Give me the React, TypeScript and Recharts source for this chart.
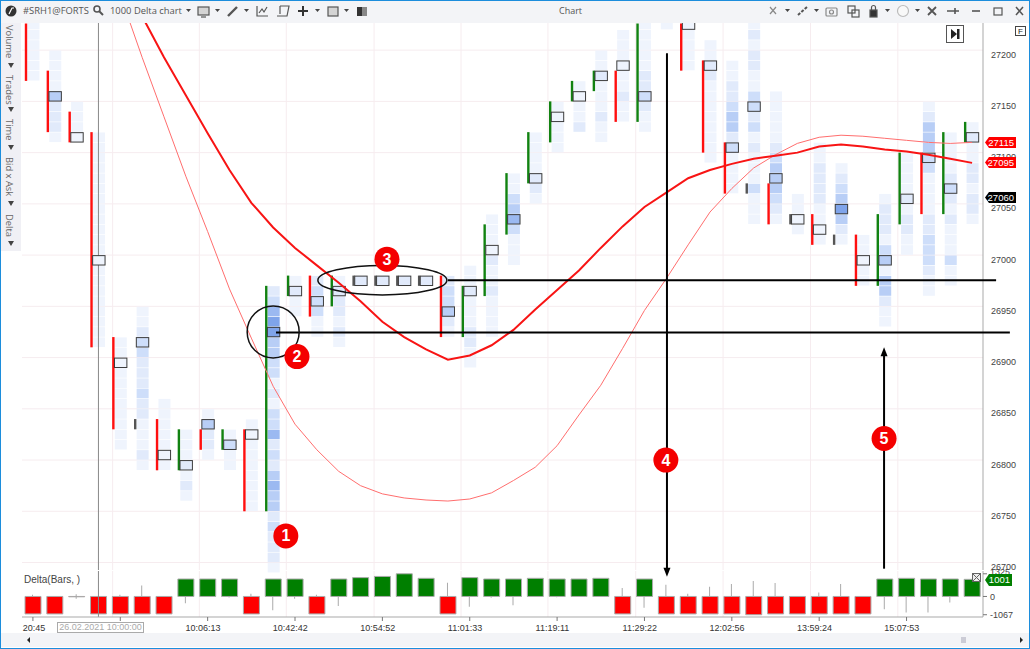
import {
  Bar,
  CartesianGrid,
  Cell,
  ComposedChart,
  Line,
  ReferenceDot,
  ReferenceLine,
  Scatter,
  XAxis,
  YAxis,
} from "recharts";

// footprint: price of the top cell of every bar and its volume shades, top to bottom
const cellTop = [
  27225, 27195, 27145, 27115, 26915, 26945, 26855, 26825, 26845, 26825, 26835,
  26965, 26975, 26975, 26975, 26975, 26975, 26975, 26975, 26975, 26985, 27035,
  27075, 27115, 27145, 27165, 27195, 27215, 27225, 27225, 27225, 27205, 27185,
  27225, 27155, 27055, 27105, 27085, 27015, 27055, 27095, 27145, 27115, 27125,
];
const cellShades = [
  "111111", "111142221", "1111", "111111111111111111111", "11111111111",
  "1123322232211121", "1111111", "1112121", "14221", "1311", "111111111",
  "2356644331213352324544232221", "1211", "233311", "1222121", "2", "2", "2", "2",
  "233421", "1121112211", "111121121111", "113453111", "1111221", "11111", "11112",
  "112111211", "111111211", "11111223211", "1", "11111", "112211111111",
  "1122344231111", "12122113323121113111", "1111123444321", "1111", "1122221111",
  "12346421", "11111", "1222134144211", "1111212211", "1244433111122333211",
  "111123212111311", "1211221221",
];
const pocPrice = [
  null, 27155, 27115, 26995, 26895, 26915, 26805, 26795, 26835, 26815, 26825,
  26925, 26965, 26955, 26965, 26975, 26975, 26975, 26975, 26945, 26965, 27005,
  27035, 27075, 27135, 27155, 27175, 27185, 27155, null, 27225, 27185, 27105,
  27145, 27075, 27035, 27025, 27045, 26995, 26995, 27055, 27095, 27065, 27115,
];

// r = down, g = up, d = doji
const candleKinds = [
  "r", "r", "r", "r", "r", "d", "r", "g", "r", "g", "r", "g", "g", "r", "g", "d",
  "d", "d", "d", "r", "g", "g", "g", "g", "g", "g", "g", "r", "g", "", "r", "r",
  "r", "d", "r", "d", "r", "d", "r", "g", "g", "r", "g", "g",
];
const candleHigh = [
  27226, 27180, 27140, 27120, 26920, 26840, 26840, 26830, 26830, 26830, 26830,
  26970, 26980, 26980, 26980, 26980, 26980, 26980, 26980, 26980, 26970, 27030,
  27080, 27120, 27150, 27170, 27180, 27180, 27226, null, 27226, 27190, 27110,
  27070, 27070, 27040, 27040, 27020, 27020, 27040, 27100, 27100, 27120, 27130,
];
const candleLow = [
  27170, 27120, 27110, 26910, 26830, 26830, 26790, 26790, 26810, 26810, 26750,
  26750, 26960, 26940, 26950, 26970, 26970, 26970, 26970, 26920, 26920, 26960,
  27020, 27070, 27110, 27150, 27160, 27130, 27130, null, 27180, 27100, 27060,
  27060, 27030, 27030, 27010, 27010, 26970, 26970, 27030, 27040, 27040, 27110,
];

const slowAverage = [
  null, null, null, null, null, 27233, 27193, 27156, 27119, 27083, 27051, 27027,
  27007, 26990, 26973, 26955, 26935, 26920, 26908, 26898, 26902, 26912, 26927,
  26947, 26966, 26985, 27007, 27028, 27047, 27061, 27075, 27083, 27089, 27094,
  27097, 27100, 27106, 27108, 27106, 27103, 27101, 27098, 27094, 27090,
];
const fastAverage = [
  null, null, null, null, 27254, 27193, 27135, 27077, 27023, 26967, 26919, 26872,
  26835, 26810, 26789, 26775, 26767, 26763, 26761, 26760, 26762, 26768, 26780,
  26793, 26814, 26844, 26873, 26909, 26946, 26977, 27010, 27042, 27065, 27085,
  27098, 27109, 27115, 27117, 27116, 27114, 27112, 27110, 27109, 27110,
];

const deltaValue = [
  -1020, -1020, -20, -1020, -1020, -1020, -1020, 1020, 1020, 1020, -1020, 1020,
  1020, -1020, 1020, 1100, 1170, 1325, 1060, -1020, 1100, 1020, 1020, 1060, 1020,
  1020, 1060, -1020, 1020, -1020, -1020, -1020, -1020, -1067, -1020, -1020, -1020,
  -1020, -1020, 1020, 1060, 1020, 1020, 1001,
];
const deltaHigh = [
  100, 0, 130, 0, 100, 640, 0, 0, 0, 0, 160, 0, 0, 100, 0, 0, 0, 0, 0, 800, 0, 0,
  0, 0, 0, 0, 0, 490, 0, 685, 160, 570, 725, 900, 780, 0, 235, 725, 0, 0, 0, 0, 0, 0,
];
const deltaLow = [
  0, 0, -130, 0, 0, 0, 0, -400, 0, -60, 0, -800, -140, 0, -560, 0, 0, 0, 0, 0, -600,
  -70, -510, 0, -50, 0, 0, 0, -660, 0, 0, 0, 0, 0, 0, 0, 0, 0, 0, -745, -940, -940,
  -350, 0,
];

const priceTicks = [27200, 27150, 27100, 27050, 27000, 26950, 26900, 26850, 26800, 26750, 26700];
const deltaTicks = [1325, 0, -1067];
const timeTickBars = [0, 4, 8, 12, 16, 20, 24, 28, 32, 36, 40];
const timeTickLabels = [
  "20:45", "", "10:06:13", "10:42:42", "10:54:52", "11:01:33", "11:19:11", "11:29:22",
  "12:02:56", "13:59:24", "15:07:53",
];
const gridBars = [3.65, 7.62, 11.6, 15.62, 19.6, 23.58, 27.6, 31.6, 35.6, 39.6];
const priceTags = [
  { text: "27115", color: "#ff0000", top: 137 },
  { text: "27095", color: "#ff0000", top: 157 },
  { text: "27060", color: "#000000", top: 192 },
];
const badges = [
  { n: "1", bar: 11.58, price: 26726 },
  { n: "2", bar: 12.09, price: 26901 },
  { n: "3", bar: 16.21, price: 26996 },
  { n: "4", bar: 28.98, price: 26800 },
  { n: "5", bar: 38.97, price: 26821 },
];
const sideLabels = ["Volume", "Trades", "Time", "Bid x Ask", "Delta"];
const sideLabelTops = [2, 52, 96, 134, 191];
const sideCaretTops = [40, 84, 122, 178, 218];

const shadeColors = ["#ffffff", "#eff4fd", "#e1eafb", "#cedefa", "#b8cef6", "#9bb9f1", "#7fa4ea"];
const candleColors: Record<string, string> = { r: "#ff0f0f", g: "#118211", d: "#555555" };

const bars = cellTop.map((_, i) => ({
  idx: i,
  candle: candleHigh[i] === null ? null : [candleLow[i], candleHigh[i]],
  kind: candleKinds[i],
  slow: slowAverage[i],
  fast: fastAverage[i],
}));
const cells = cellTop.flatMap((top, i) =>
  cellShades[i].split("").map((s, row) => ({ idx: i, price: top - row * 10, shade: Number(s) })),
);
const pocs = pocPrice.flatMap((price, i) => {
  if (price === null) return [];
  const row = (cellTop[i] - price) / 10;
  return [{ idx: i, price, shade: Number(cellShades[i][row]) }];
});
const deltaBars = deltaValue.map((v, i) => ({
  idx: i,
  value: v,
  wick: [deltaLow[i], deltaHigh[i]],
}));

const SANS = "'Liberation Sans', Arial, sans-serif";
const UI = "'Open Sans', sans-serif";
const LINE = "#a9a9a9";
const GRID = "#f6ecef";

const CellShape = (props: any) => (
  <rect
    x={props.cx - 5.5}
    y={props.cy - 4.8}
    width={12}
    height={9.6}
    fill={shadeColors[props.payload.shade]}
  />
);
const PocShape = (props: any) => (
  <rect
    x={props.cx - 5.8}
    y={props.cy - 4.6}
    width={12.4}
    height={9.4}
    fill={shadeColors[props.payload.shade]}
    stroke="#3c3c3c"
    strokeWidth={1}
  />
);
const CandleShape = (props: any) => {
  if (!props.height) return null;
  return (
    <rect
      x={props.x - 7.2}
      y={props.y}
      width={2.4}
      height={props.height}
      fill={candleColors[props.payload.kind]}
    />
  );
};
const Badge = (n: string) => (props: any) => (
  <g>
    <circle cx={props.cx} cy={props.cy} r={12.5} fill="#f40000" />
    <text
      x={props.cx}
      y={props.cy + 5.5}
      textAnchor="middle"
      fontFamily={SANS}
      fontWeight={700}
      fontSize={16}
      fill="#fff">
      {n}
    </text>
  </g>
);
const arrowHead = (dir: number) => (props: any) => (
  <polygon
    points={`${props.cx},${props.cy} ${props.cx - 3.5},${props.cy - dir * 9} ${props.cx + 3.5},${props.cy - dir * 9}`}
    fill="#000"
  />
);

const PriceTick = ({ x, y, payload }: any) => (
  <text x={x} y={y + 7.5} fontFamily={SANS} fontSize={9} fill="#444">
    {payload.value}
  </text>
);
const DeltaTick = ({ x, y, payload }: any) => (
  <text x={x} y={payload.value === 1325 ? y + 1.5 : y + 3.2} fontFamily={SANS} fontSize={9} fill="#444">
    {payload.value}
  </text>
);
// the platform draws its time labels a little left of the tick, the first one clipped to the pane
const TimeTick = ({ x, y, payload }: any) => (
  <text
    x={payload.value === 0 ? x + 1 : x - 4.7}
    y={y + 7}
    textAnchor="middle"
    fontFamily={SANS}
    fontSize={9}
    fill="#333">
    {timeTickLabels[timeTickBars.indexOf(payload.value)]}
  </text>
);

const Caret = ({ x }: { x: number }) => (
  <polygon points={`${x},9 ${x + 5},9 ${x + 2.5},12`} fill="#444" />
);

const Toolbar = () => (
  <div style={{ position: "absolute", left: 1, top: 1, width: 1028, height: 22, background: "#f3f4f7" }}>
    <svg width={1028} height={22} style={{ position: "absolute", left: 0, top: 0 }}>
      <g transform="translate(-1,-1)" stroke="#555" fill="none" strokeWidth={1.2}>
        <circle cx={11} cy={11} r={5.5} fill="#333" stroke="none" />
        <path d="M9 14 L12 8 L14 8" stroke="#fff" />
        <circle cx={97} cy={9} r={3} strokeWidth={1.6} />
        <path d="M99 11 L103 15" strokeWidth={2} />
        <rect x={198} y={7} width={11} height={8} fill="#d4d4d4" />
        <path d="M201 17 H206" />
        <path d="M228 16 L237 7" strokeWidth={2.4} />
        <path d="M257 6 V16 H268 M259 13 L262 9 L264 12 L267 7" />
        <path d="M280 6 H289 L287 16 H277 M280 6 V14" />
        <path d="M298 11 H308 M303 6 V16" strokeWidth={2} stroke="#333" />
        <rect x={328} y={7} width={10} height={9} fill="#d4d4d4" />
        <rect x={357} y={7} width={5} height={9} fill="#333" stroke="none" />
        <rect x={362} y={7} width={5} height={9} fill="#888" stroke="none" />
        <path d="M770 7 L776 14 M776 7 L770 14" stroke="#888" />
        <path d="M798 15 L807 7" strokeDasharray="3 1.5" strokeWidth={2} />
        <rect x={826} y={8} width={11} height={8} rx={1} stroke="#888" />
        <circle cx={831.5} cy={12} r={2} stroke="#888" />
        <rect x={848} y={6} width={7} height={7} />
        <rect x={852} y={10} width={7} height={7} />
        <rect x={870} y={10} width={7} height={7} fill="#333" />
        <path d="M871.5 10 V7.5 A2 2 0 0 1 875.5 7.5 V10" />
        <circle cx={903} cy={11} r={5.5} stroke="#bbb" fill="#f8f8f8" />
        <path d="M928 15 L936 7 M928 7 L936 15" strokeWidth={1.8} />
        <path d="M947 11 H959 M955 8 V14" strokeWidth={1.6} />
        <path d="M972 11 H980" strokeWidth={1.6} />
        <rect x={994} y={8} width={8} height={7} />
        <path d="M1016 7 L1023 15 M1023 7 L1016 15" strokeWidth={1.5} />
      </g>
      <g transform="translate(-1,-1)">
        {[186, 215, 244, 315, 344, 785, 814, 885, 915].map((x) => (
          <Caret key={x} x={x} />
        ))}
      </g>
    </svg>
    <div style={{ position: "absolute", left: 22, top: 3, font: `9.4px ${UI}`, color: "#555" }}>#SRH1@FORTS</div>
    <div style={{ position: "absolute", left: 109, top: 3, font: `9.4px ${UI}`, color: "#555" }}>1000 Delta chart</div>
    <div style={{ position: "absolute", left: 558, top: 3, font: `9px ${UI}`, color: "#555" }}>Chart</div>
  </div>
);

const LeftStrip = () => (
  <div
    style={{
      position: "absolute",
      left: 1,
      top: 23,
      width: 20,
      height: 228,
      background: "#f0f0f5",
      overflow: "hidden",
    }}>
    {sideLabels.map((t, i) => (
      <div
        key={t}
        style={{
          position: "absolute",
          left: 2,
          top: sideLabelTops[i],
          writingMode: "vertical-rl",
          font: `9.4px ${UI}`,
          color: "#666",
          whiteSpace: "nowrap",
        }}>
        {t}
      </div>
    ))}
    {sideCaretTops.map((y) => (
      <svg key={y} width={8} height={6} style={{ position: "absolute", left: 6, top: y }}>
        <polygon points="1,0 7,0 4,5" fill="#444" />
      </svg>
    ))}
  </div>
);

const App = () => (
  <div
    style={{
      position: "absolute",
      left: 0,
      top: 0,
      width: 1030,
      height: 649,
      background: "#fff",
      overflow: "hidden",
    }}>
    <div style={{ position: "absolute", left: 0, top: 0, zIndex: 1 }}>
      <ComposedChart
        width={1030}
        height={633}
        data={deltaBars}
        margin={{ top: 571, right: 0, bottom: 0, left: 22 }}
        barGap={0}>
        <CartesianGrid stroke={GRID} horizontal={false} verticalValues={gridBars} />
        <XAxis
          dataKey="idx"
          type="number"
          domain={[-0.5, 43.5]}
          ticks={timeTickBars}
          interval={0}
          height={16}
          tickSize={4}
          tickMargin={3}
          stroke="#777"
          axisLine={{ stroke: LINE }}
          tick={<TimeTick />}
        />
        <XAxis xAxisId="wick" dataKey="idx" type="number" domain={[-0.5, 43.5]} hide />
        <YAxis
          orientation="right"
          width={47}
          domain={[-1200, 1488]}
          ticks={deltaTicks}
          interval={0}
          tickSize={4}
          tickMargin={3}
          stroke="#777"
          axisLine={{ stroke: LINE }}
          tick={<DeltaTick />}
        />
        <ReferenceLine x={3} stroke="#888" />
        <Bar
          xAxisId="wick"
          dataKey="wick"
          barSize={1}
          fill="#aaaaaa"
          isAnimationActive={false}
        />
        <Bar dataKey="value" barSize={16} stroke="#aaaaaa" isAnimationActive={false}>
          {deltaBars.map((d) => (
            <Cell key={d.idx} fill={d.value > 0 ? "#007f00" : "#ff0000"} />
          ))}
        </Bar>
      </ComposedChart>
    </div>

    <div style={{ position: "absolute", left: 0, top: 0, zIndex: 2 }}>
      <ComposedChart
        width={1030}
        height={649}
        data={bars}
        margin={{ top: 23, right: 0, bottom: 79, left: 22 }}>
        <CartesianGrid stroke={GRID} verticalValues={gridBars} horizontalValues={priceTicks} />
        <XAxis dataKey="idx" type="number" domain={[-0.5, 43.5]} hide />
        <YAxis
          dataKey="price"
          orientation="right"
          width={47}
          domain={[26692.7, 27226.5]}
          ticks={priceTicks}
          interval={0}
          tickSize={0}
          tickMargin={8}
          axisLine={{ stroke: LINE }}
          tick={<PriceTick />}
        />
        <Scatter data={cells} shape={<CellShape />} zIndex={100} isAnimationActive={false} />
        <ReferenceLine x={3} stroke="#888" zIndex={150} />
        <Bar dataKey="candle" barSize={2} shape={<CandleShape />} zIndex={200} isAnimationActive={false} />
        <Scatter data={pocs} shape={<PocShape />} zIndex={300} isAnimationActive={false} />
        <Line
          dataKey="fast"
          stroke="#ff6e6e"
          strokeWidth={1}
          dot={false}
          isAnimationActive={false}
        />
        <Line
          dataKey="slow"
          stroke="#f81414"
          strokeWidth={2}
          dot={false}
          isAnimationActive={false}
        />
        <ReferenceLine
          segment={[{ x: 19, y: 26975.5 }, { x: 44.1, y: 26975.5 }]}
          stroke="#000"
          strokeWidth={2}
          ifOverflow="visible"
          zIndex={700}
        />
        <ReferenceLine
          segment={[{ x: 11.13, y: 26924.5 }, { x: 44.73, y: 26924.5 }]}
          stroke="#000"
          strokeWidth={2}
          ifOverflow="visible"
          zIndex={700}
        />
        <ReferenceLine
          segment={[{ x: 29.03, y: 27197 }, { x: 29.03, y: 26692 }]}
          stroke="#000"
          strokeWidth={2}
          ifOverflow="visible"
          zIndex={700}
        />
        <ReferenceLine
          segment={[{ x: 38.97, y: 26694 }, { x: 38.97, y: 26905 }]}
          stroke="#000"
          strokeWidth={2}
          ifOverflow="visible"
          zIndex={700}
        />
        <ReferenceDot x={29.03} y={26686} ifOverflow="visible" shape={arrowHead(1)} zIndex={700} />
        <ReferenceDot x={38.97} y={26910} ifOverflow="visible" shape={arrowHead(-1)} zIndex={700} />
        <ReferenceDot
          x={16}
          y={26975.5}
          ifOverflow="visible"
          zIndex={700}
          shape={(p: any) => (
            <ellipse cx={p.cx} cy={p.cy} rx={64.5} ry={14.7} fill="none" stroke="#111" strokeWidth={1.5} />
          )}
        />
        <ReferenceDot
          x={11}
          y={26925}
          ifOverflow="visible"
          zIndex={700}
          shape={(p: any) => (
            <circle cx={p.cx} cy={p.cy} r={26} fill="none" stroke="#111" strokeWidth={1.5} />
          )}
        />
        {badges.map((b) => (
          <ReferenceDot key={b.n} x={b.bar} y={b.price} ifOverflow="visible" shape={Badge(b.n)} zIndex={800} />
        ))}
      </ComposedChart>
    </div>

    <div style={{ position: "absolute", inset: 0, zIndex: 3, pointerEvents: "none" }}>
      <Toolbar />
      <LeftStrip />
      {/* corner buttons */}
      <div
        style={{
          position: "absolute",
          left: 946,
          top: 25,
          width: 16,
          height: 16,
          border: "1px solid #555",
          background: "#fff",
        }}>
        <svg width={16} height={16}>
          <polygon points="4,3 10,8 4,13" fill="#222" />
          <rect x={10} y={3} width={2.5} height={10} fill="#222" />
        </svg>
      </div>
      <div
        style={{
          position: "absolute",
          left: 1015,
          top: 26,
          width: 9,
          height: 8,
          border: "1px solid #444",
          font: `8px ${SANS}`,
          textAlign: "center",
          color: "#222",
        }}>
        F
      </div>
      <svg width={10} height={10} style={{ position: "absolute", left: 972, top: 573 }}>
        <rect x={0.5} y={0.5} width={8} height={8} fill="#eee" stroke="#666" />
        <path d="M1 1 L8 8 M8 1 L1 8" stroke="#666" />
      </svg>
      {priceTags.map((t) => (
        <div
          key={t.text}
          style={{
            position: "absolute",
            left: 985,
            top: t.top,
            width: 31,
            height: 11,
            background: t.color,
            clipPath: "polygon(4px 0, 100% 0, 100% 100%, 4px 100%, 0 50%)",
            font: `9.5px/11px ${SANS}`,
            color: "#fff",
            textAlign: "right",
          }}>
          <span style={{ marginRight: 2 }}>{t.text}</span>
        </div>
      ))}
      <div
        style={{
          position: "absolute",
          left: 985,
          top: 574,
          width: 27,
          height: 12,
          background: "#007f00",
          clipPath: "polygon(4px 0, 100% 0, 100% 100%, 4px 100%, 0 50%)",
          font: `9.5px/12px ${SANS}`,
          color: "#fff",
          textAlign: "right",
        }}>
        <span style={{ marginRight: 2 }}>1001</span>
      </div>
      <div style={{ position: "absolute", left: 24, top: 574, font: `10px ${SANS}`, color: "#444" }}>
        Delta(Bars, )
      </div>
      <div
        style={{
          position: "absolute",
          left: 57,
          top: 622,
          width: 85,
          height: 9,
          border: "1px solid #aaa",
          font: `9px/9px ${SANS}`,
          color: "#aaa",
          textAlign: "center",
          background: "#fff",
        }}>
        26.02.2021 10:00:00
      </div>
      {/* bottom scroll strip */}
      <div style={{ position: "absolute", left: 1, top: 633, width: 1028, height: 14, background: "#f3f4f7" }} />
      <svg width={1030} height={16} style={{ position: "absolute", left: 0, top: 632 }}>
        <polygon points="27,8 30,5 30,11" fill="#222" />
        <polygon points="1023,8 1020,5 1020,11" fill="#222" />
        <rect x={961} y={5} width={5} height={6} fill="#ccccd6" />
      </svg>
      {/* window border */}
      <div
        style={{
          position: "absolute",
          left: 0,
          top: 0,
          width: 1028,
          height: 647,
          border: "1px solid #1c8ddc",
        }}
      />
    </div>
  </div>
);

export default App;
